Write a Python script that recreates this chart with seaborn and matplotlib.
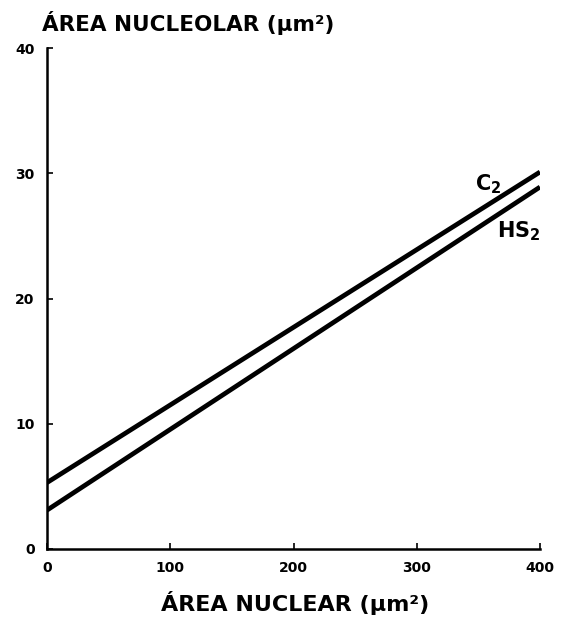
import matplotlib
matplotlib.use("Agg")
import matplotlib.pyplot as plt
import seaborn as sns
import pandas as pd

nuclear_area = [0, 400]
c2_values = [5.3, 30.1]
hs2_values = [3.1, 28.9]
series_names = [r"C$_\mathbf{2}$", r"HS$_\mathbf{2}$"]
x_ticks = [0, 100, 200, 300, 400]
y_ticks = [0, 10, 20, 30, 40]

df = pd.DataFrame({
    "x": nuclear_area * 2,
    "y": c2_values + hs2_values,
    "serie": ["C2"] * 2 + ["HS2"] * 2,
})

sns.set_style("ticks")
plt.rcParams['font.family'] = ['DejaVu Sans']
plt.rcParams['text.color'] = 'black'
plt.rcParams['axes.labelcolor'] = 'black'
plt.rcParams['mathtext.default'] = 'bf'

fig = plt.figure(figsize=(5.67, 6.26), dpi=100)
ax = fig.add_axes([47/567, 77/626, (540-47)/567, (549-48)/626])

sns.lineplot(data=df, x="x", y="y", hue="serie", palette=["black", "black"],
             linewidth=3.4, legend=False, ax=ax, solid_capstyle="butt")

ax.set_xlim(0, 400)
ax.set_ylim(0, 40)
ax.set_xticks(x_ticks)
ax.set_yticks(y_ticks)
ax.set_xticklabels([str(t) for t in x_ticks], fontweight="bold", fontsize=10)
ax.set_yticklabels([str(t) for t in y_ticks], fontweight="bold", fontsize=10)
ax.tick_params(direction="in", length=4, width=1.2, pad=9, colors="black")
for s in ["top", "right"]:
    ax.spines[s].set_visible(False)
for s in ["left", "bottom"]:
    ax.spines[s].set_linewidth(1.8)
    ax.spines[s].set_color("black")
ax.set_xlabel("")
ax.set_ylabel("")

ax.text(358, 29.1, series_names[0], fontsize=15, fontweight="bold", ha="center", va="center")
ax.text(383, 25.4, series_names[1], fontsize=15, fontweight="bold", ha="center", va="center")

fig.text(42/567, 1 - 23/626, "ÁREA NUCLEOLAR (µm²)", fontsize=15.5, fontweight="bold",
         ha="left", va="center")
fig.text(295/567, 1 - 603/626, "ÁREA NUCLEAR (µm²)", fontsize=16, fontweight="bold",
         ha="center", va="center")

fig.savefig("out.png", dpi=100)
